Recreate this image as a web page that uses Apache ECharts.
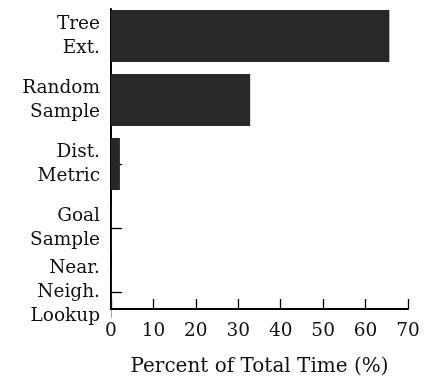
<!DOCTYPE html>
<html><head><meta charset="utf-8">
<script src="https://cdn.jsdelivr.net/npm/echarts@6/dist/echarts.min.js"></script>
<style>html,body{margin:0;padding:0;background:#fff}#c{width:434px;height:382px}</style>
</head><body><div id="c"></div>
<script>
const categories = ['Tree\nExt.', 'Random\nSample', 'Dist.\nMetric', 'Goal\nSample', 'Near.\nNeigh.\nLookup'];
const values = [65.6, 32.8, 2.1, 0.1, 0.1];
const xTicks = [0, 10, 20, 30, 40, 50, 60, 70];
const FONT = '"DejaVu Serif", serif';
const FS = 18.5;
const chart = echarts.init(document.getElementById('c'));
chart.setOption({
  animation: false,
  grid: [
    {left: 111, right: 26, top: 9, bottom: 65},
    {left: 111, right: 26, top: 4, bottom: 58}
  ],
  xAxis: [
    {gridIndex: 0, type: 'value', min: xTicks[0], max: xTicks[xTicks.length-1], interval: 10,
     axisLine: {show: true, lineStyle: {color: '#000', width: 2}},
     axisTick: {show: true, inside: true, length: 10, lineStyle: {color: '#000', width: 1.3}},
     axisLabel: {margin: 13, color: '#111', fontFamily: FONT, fontSize: FS},
     splitLine: {show: false},
     name: 'Percent of Total Time (%)', nameLocation: 'middle', nameGap: 48,
     nameTextStyle: {color: '#111', fontFamily: FONT, fontSize: 20}},
    {gridIndex: 1, type: 'value', min: 0, max: 70, show: false}
  ],
  yAxis: [
    {gridIndex: 0, type: 'value', min: 0, max: 1,
     axisLine: {show: true, lineStyle: {color: '#000', width: 2}},
     axisTick: {show: false}, axisLabel: {show: false}, splitLine: {show: false}},
    {gridIndex: 1, type: 'category', inverse: true, data: categories,
     axisLine: {show: false},
     axisTick: {show: true, inside: true, length: 11, alignWithLabel: true, lineStyle: {color: '#000', width: 1.3}},
     axisLabel: {margin: 11, color: '#111', fontFamily: FONT, fontSize: FS, lineHeight: 24, align: 'right'}}
  ],
  series: [{
    type: 'bar', xAxisIndex: 1, yAxisIndex: 1, data: values, barWidth: 52,
    itemStyle: {color: '#282828'}
  }]
});
</script></body></html>
